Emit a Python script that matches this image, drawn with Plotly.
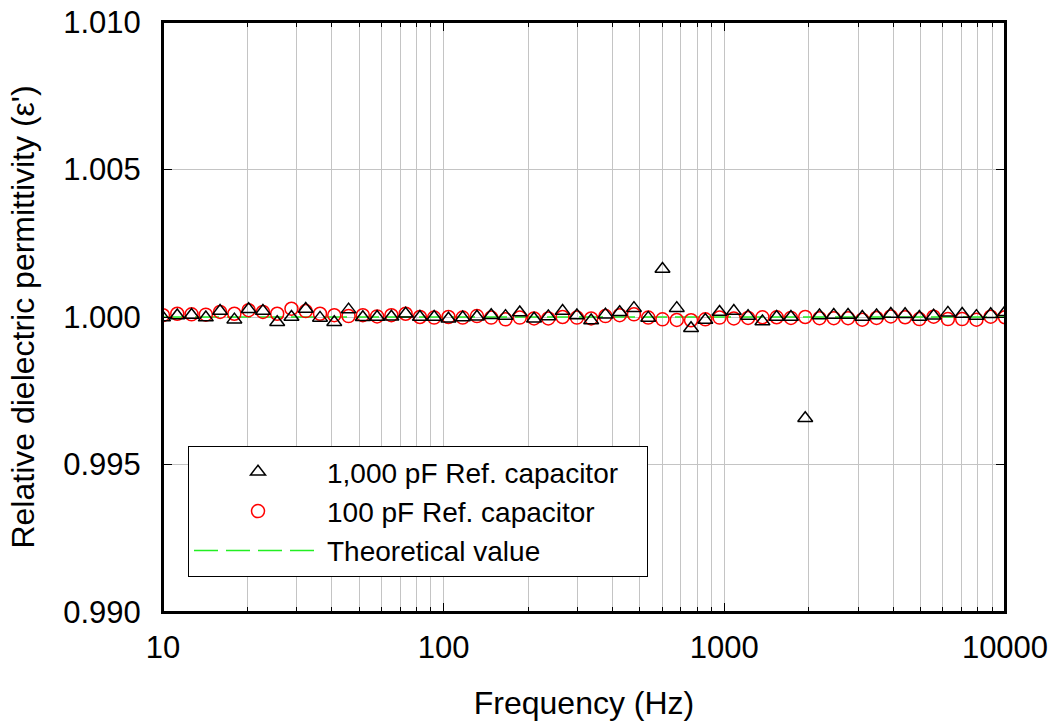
import plotly.graph_objects as go

# Frequencies (Hz), 60 log-spaced points from 10 Hz to 10 kHz
freq = [10.00, 11.24, 12.64, 14.21, 15.97, 17.96, 20.19, 22.70, 25.52, 28.69,
        32.25, 36.26, 40.76, 45.83, 51.52, 57.92, 65.12, 73.21, 82.30, 92.50,
        104.0, 116.9, 131.4, 147.7, 166.1, 186.7, 209.9, 236.0, 265.3, 298.3,
        335.3, 377.0, 423.8, 476.4, 535.6, 602.1, 676.9, 761.0, 855.5, 961.7,
        1081, 1215, 1367, 1536, 1727, 1942, 2183, 2454, 2759, 3101,
        3486, 3919, 4406, 4953, 5568, 6260, 7037, 7911, 8894, 10000]

eps_1000pF = [0.99998, 1.00005, 1.00007, 0.99998, 1.00020, 0.99991, 1.00026, 1.00020, 0.99982, 1.00000,
              1.00027, 0.99997, 0.99982, 1.00025, 0.99999, 1.00000, 1.00001, 1.00011, 1.00000, 1.00000,
              0.99994, 0.99998, 1.00001, 1.00006, 1.00003, 1.00015, 0.99994, 1.00002, 1.00020, 1.00005,
              0.99988, 1.00008, 1.00016, 1.00030, 0.99997, 1.00163, 1.00030, 0.99962, 0.99990, 1.00017,
              1.00020, 1.00003, 0.99985, 1.00000, 1.00000, 0.99657, 1.00005, 1.00007, 1.00007, 1.00000,
              1.00005, 1.00010, 1.00009, 1.00000, 1.00004, 1.00014, 1.00010, 1.00003, 1.00009, 1.00016]

eps_100pF = [1.00006, 1.00011, 1.00009, 1.00008, 1.00017, 1.00011, 1.00023, 1.00017, 1.00011, 1.00028,
             1.00020, 1.00011, 1.00006, 1.00003, 1.00006, 1.00002, 1.00006, 1.00011, 1.00000, 0.99998,
             1.00000, 0.99998, 1.00003, 0.99998, 0.99992, 0.99998, 0.99995, 0.99995, 1.00000, 0.99998,
             0.99995, 1.00003, 1.00006, 1.00009, 0.99998, 0.99992, 0.99990, 0.99989, 0.99992, 0.99998,
             0.99995, 0.99997, 0.99999, 0.99999, 0.99997, 1.00000, 0.99996, 0.99996, 0.99996, 0.99991,
             0.99997, 1.00002, 0.99999, 0.99993, 1.00001, 0.99993, 0.99993, 0.99991, 1.00001, 0.99999]

theory_x = [10, 10000]
theory_y = [1.0, 1.0]

y_ticks = [0.990, 0.995, 1.000, 1.005, 1.010]
x_ticks = [10, 100, 1000, 10000]

fig = go.Figure()
fig.add_trace(go.Scatter(
    x=theory_x, y=theory_y, mode="lines", name="Theoretical value",
    line=dict(color="#22ee22", width=1.5, dash="24px,8px"), legendrank=3))
fig.add_trace(go.Scatter(
    x=freq, y=eps_100pF, mode="markers", name="100 pF Ref. capacitor",
    marker=dict(symbol="circle-open", size=13, color="#ff0000", line=dict(width=1.5)),
    legendrank=2))
fig.add_trace(go.Scatter(
    x=freq, y=eps_1000pF, mode="markers",
    name="1,000 pF Ref. capacitor\u00a0\u00a0\u00a0",
    marker=dict(symbol="triangle-up-open", size=13, color="#000000", line=dict(width=1.5)),
    legendrank=1))

grid_col = "#c4c4c4"
fig.update_layout(
    width=1057, height=723,
    margin=dict(l=163, r=52, t=22, b=111, autoexpand=False),
    paper_bgcolor="white", plot_bgcolor="white",
    font=dict(family="Liberation Sans, Arial, sans-serif", size=31, color="black"),
    showlegend=True,
    legend=dict(
        x=(188 - 163) / 842, y=(612 - 446) / 590, xanchor="left", yanchor="top",
        bordercolor="black", borderwidth=1, bgcolor="white",
        font=dict(size=28), itemwidth=128, tracegroupgap=0,
        traceorder="normal",
    ),
    xaxis=dict(
        type="log", range=[1, 4], tickvals=x_ticks, ticktext=[str(v) for v in x_ticks],
        showline=True, linecolor="black", linewidth=2, mirror="allticks",
        ticks="inside", ticklen=9, tickcolor="black", tickwidth=1,
        showgrid=True, gridcolor=grid_col, gridwidth=1,
        minor=dict(dtick="D1", showgrid=True, gridcolor=grid_col, gridwidth=1,
                   ticks="inside", ticklen=5, tickcolor="black"),
        title=dict(text="Frequency (Hz)", standoff=27, font=dict(size=32)),
        zeroline=False, ticklabelstandoff=7, automargin=False,
        ticklabeloverflow="allow",
    ),
    yaxis=dict(
        range=[0.990, 1.010], tickvals=y_ticks, tickformat=".3f",
        showline=True, linecolor="black", linewidth=2, mirror="allticks",
        ticks="inside", ticklen=9, tickcolor="black", tickwidth=1,
        showgrid=True, gridcolor=grid_col, gridwidth=1,
        title=dict(text="Relative dielectric permittivity (ε')", standoff=19,
                   font=dict(size=32)),
        zeroline=False, ticklabelstandoff=14, automargin=False,
        ticklabeloverflow="allow",
    ),
)
# plot frame (border of the plotting area)
fig.add_shape(type="rect", xref="paper", yref="paper", x0=0, x1=1, y0=0, y1=1,
              line=dict(color="black", width=2), layer="above")

# remove the default 8 px page margin so the figure fills the window exactly
fig.write_html("out.html", config={"displayModeBar": False},
               post_script="document.body.style.margin='0';")
